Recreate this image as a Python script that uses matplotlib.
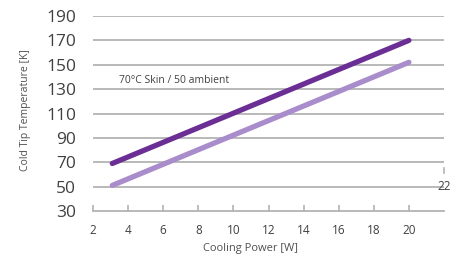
import matplotlib.pyplot as plt

potencia = [3.1, 20]
temp_skin70 = [69, 170]
temp_ambient50 = [51, 152]
yticks = [30, 50, 70, 90, 110, 130, 150, 170, 190]
xticks = [2, 4, 6, 8, 10, 12, 14, 16, 18, 20]

plt.rcParams['font.family'] = ['Open Sans', 'DejaVu Sans']

fig = plt.figure(figsize=(4.66, 2.62), dpi=100)
ax = fig.add_axes([93/466, 1-211/262, (444-93)/466, (211-16)/262])

ax.plot(potencia, temp_skin70, color='#6b2e94', lw=3.8, solid_capstyle='round', zorder=3)
ax.plot(potencia, temp_ambient50, color='#a98ccb', lw=3.8, solid_capstyle='round', zorder=3)

ax.set_xlim(2, 22)
ax.set_ylim(30, 190)
ax.set_yticks(yticks)
ax.set_xticks(xticks)
for y in yticks[1:]:
    ax.axhline(y, color='#b3b3b3', lw=1.3, zorder=1)

for s in ['top', 'right', 'left']:
    ax.spines[s].set_visible(False)
ax.spines['bottom'].set_color('#b3b3b3')
ax.spines['bottom'].set_linewidth(1.3)

ax.tick_params(axis='y', length=0, labelsize=12.5, labelcolor='#404040', pad=12)
ax.tick_params(axis='x', direction='in', length=4, color='#b3b3b3', width=1.2,
               labelsize=8.5, labelcolor='#404040', pad=9)

# etiqueta 22 descolocada como en el original
ax.plot([22, 22], [65.3, 61.5], color='#b3b3b3', lw=1.2, clip_on=False)
ax.text(22, 50.5, '22', ha='center', va='center', fontsize=8.5, color='#404040')

ax.text(3.5, 137, '70°C Skin / 50 ambient', fontsize=7.5, color='#404040', va='center')

ax.set_xlabel('Cooling Power [W]', fontsize=8, color='#505050', labelpad=5, x=0.45)
ax.set_ylabel('Cold Tip Temperature [K]', fontsize=7.5, color='#505050', labelpad=11, y=0.52)

fig.savefig('out.png', dpi=100)
